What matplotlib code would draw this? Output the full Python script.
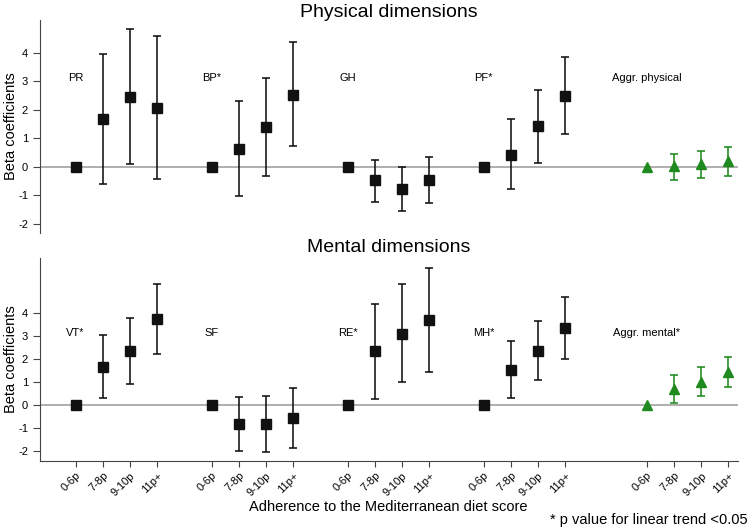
import matplotlib
matplotlib.use("Agg")
import matplotlib.pyplot as plt
import numpy as np

plt.rcParams['font.family'] = ['Liberation Sans', 'DejaVu Sans']

levels = ["0-6p", "7-8p", "9-10p", "11p+"]

phys_groups = ["PR", "BP*", "GH", "PF*", "Aggr. physical"]
phys_beta = [
    [0, 1.66, 2.46, 2.06],
    [0, 0.63, 1.38, 2.52],
    [0, -0.48, -0.78, -0.46],
    [0, 0.43, 1.43, 2.49],
    [0, 0.02, 0.09, 0.19],
]
phys_lo = [
    [0, -0.60, 0.11, -0.44],
    [0, -1.02, -0.32, 0.73],
    [0, -1.23, -1.54, -1.28],
    [0, -0.79, 0.15, 1.15],
    [0, -0.48, -0.40, -0.33],
]
phys_hi = [
    [0, 3.95, 4.82, 4.58],
    [0, 2.30, 3.10, 4.37],
    [0, 0.23, 0.00, 0.36],
    [0, 1.67, 2.70, 3.84],
    [0, 0.44, 0.55, 0.70],
]

ment_groups = ["VT*", "SF", "RE*", "MH*", "Aggr. mental*"]
ment_beta = [
    [0, 1.65, 2.35, 3.71],
    [0, -0.85, -0.83, -0.59],
    [0, 2.32, 3.09, 3.68],
    [0, 1.52, 2.33, 3.35],
    [0, 0.68, 0.99, 1.42],
]
ment_lo = [
    [0, 0.29, 0.90, 2.19],
    [0, -2.01, -2.04, -1.88],
    [0, 0.25, 0.97, 1.41],
    [0, 0.28, 1.06, 1.97],
    [0, 0.09, 0.39, 0.76],
]
ment_hi = [
    [0, 3.03, 3.78, 5.26],
    [0, 0.33, 0.39, 0.71],
    [0, 4.38, 5.25, 5.96],
    [0, 2.78, 3.64, 4.70],
    [0, 1.30, 1.63, 2.09],
]

group_starts = [0, 5, 10, 15, 21]
green = "#1f8a1f"
spine_col = "#444444"

fig = plt.figure(figsize=(7.5, 5.29), dpi=100)
ax1 = fig.add_axes([0.0533, 0.5595, 0.9307, 0.4026])
ax2 = fig.add_axes([0.0533, 0.1291, 0.9307, 0.3832])


def draw(ax, groups, beta, lo, hi):
    ax.axhline(0, color="#999999", lw=1.1, zorder=1)
    for gi, start in enumerate(group_starts):
        xs = np.arange(4) + start
        b = np.array(beta[gi])
        l = np.array(lo[gi])
        h = np.array(hi[gi])
        last = gi == len(group_starts) - 1
        col = green if last else "#111111"
        mk = "^" if last else "s"
        ms = 7.2 if last else 7.0
        ax.errorbar(xs[1:], b[1:], yerr=[b[1:] - l[1:], h[1:] - b[1:]],
                    fmt="none", ecolor=col, elinewidth=1.15, capsize=2.8,
                    capthick=1.15, zorder=2)
        ax.plot(xs, b, linestyle="none", marker=mk, color=col, ms=ms,
                zorder=3)
        ax.text(start, 3.12, groups[gi], ha="center", va="center",
                fontsize=8)
    ax.set_xlim(-1.31, 24.35)
    ax.set_yticks([-2, -1, 0, 1, 2, 3, 4])
    ax.set_yticklabels(["-2", "-1", "0", "1", "2", "3", "4"])
    ax.set_ylabel("Beta coefficients", fontsize=10.5)
    ax.tick_params(axis="y", labelsize=8, length=5, color=spine_col,
                   direction="out")
    for s in ["top", "right"]:
        ax.spines[s].set_visible(False)
    ax.spines["left"].set_color(spine_col)
    ax.spines["bottom"].set_color(spine_col)


draw(ax1, phys_groups, phys_beta, phys_lo, phys_hi)
draw(ax2, ment_groups, ment_beta, ment_lo, ment_hi)

ax1.set_ylim(-2.32, 5.14)
ax2.set_ylim(-2.43, 6.38)

ax1.spines["bottom"].set_visible(False)
ax1.set_xticks([])

xt = []
xl = []
for start in group_starts:
    for i, lv in enumerate(levels):
        xt.append(start + i)
        xl.append(lv)
ax2.set_xticks(xt)
ax2.set_xticklabels(xl, rotation=45, ha="right", rotation_mode="anchor",
                    fontsize=8)
ax2.tick_params(axis="x", length=4, color=spine_col, pad=3)

ax1.yaxis.set_label_coords(-0.031, 0.5)
ax2.yaxis.set_label_coords(-0.031, 0.5)

fig.text(0.518, 0.976, "Physical dimensions", ha="center", va="center",
         fontsize=14)
fig.text(0.518, 0.533, "Mental dimensions", ha="center", va="center",
         fontsize=14)
fig.text(0.518, 0.042, "Adherence to the Mediterranean diet score",
         ha="center", va="center", fontsize=10.5)
fig.text(0.997, 0.017, "* p value for linear trend <0.05", ha="right",
         va="center", fontsize=10.5)

fig.savefig("out.png", dpi=100)
